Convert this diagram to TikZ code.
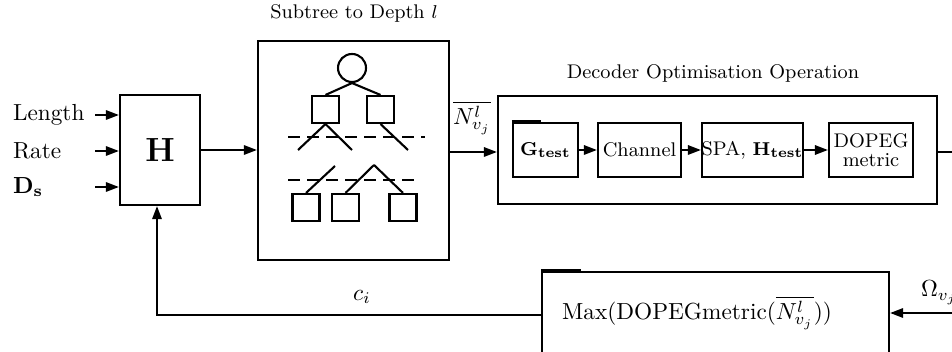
\documentclass[tikz,border=0pt]{standalone}
\usetikzlibrary{arrows.meta,fit}
\begin{document}
\begin{tikzpicture}[x=0.43pt,y=-0.43pt,line width=0.9pt,
  boxed/.style={draw,inner sep=0pt,rectangle},
  sq/.style={draw,rectangle,inner sep=0pt,minimum width=27*0.43pt,minimum height=27*0.43pt},
  arr/.style={-{Triangle[length=5.6pt,width=4pt]}},
  small/.style={font=\fontsize{8.5}{10}\selectfont},
  dashline/.style={dashed,dash pattern=on 5pt off 3.2pt}]
\clip (0,0) rectangle (952,352);
% H block
\node[boxed,fit={(120,95)(200,205)}] (H) {};
\node at (H.center) (Hl) {\Large$\mathbf{H}$};
\node[anchor=west,inner sep=0pt] (len) at (12,115) {Length};
\node[anchor=west,inner sep=0pt] (rate) at (12,151) {Rate};
\node[anchor=west,inner sep=0pt] (ds) at (12,187) {$\mathbf{D_s}$};
\coordinate (i1) at (95,115);
\coordinate (i2) at (95,151);
\coordinate (i3) at (95,187);
\draw[arr] (i1) -- (i1 -| H.west);
\draw[arr] (i2) -- (i2 -| H.west);
\draw[arr] (i3) -- (i3 -| H.west);
% Subtree block
\node[boxed,fit={(258,41)(449,260)}] (sub) {};
\node[small] (subt) at (354,13) {Subtree to Depth $l$};
\node[draw,circle,minimum size=28*0.43pt,inner sep=0pt] (root) at (352,68) {};
\node[sq] (s1) at (325.5,109.5) {};
\node[sq] (s2) at (380.5,109.5) {};
\node[sq] (t1) at (306,207.5) {};
\node[sq] (t2) at (345.5,207.5) {};
\node[sq] (t3) at (403,207.5) {};
\draw (root.south) -- (s1.north);
\draw (root.south) -- (s2.north);
\coordinate (e1) at (298,150);
\coordinate (e2) at (352,150);
\coordinate (e3) at (408,150);
\draw (s1.south) -- (e1);
\draw (s1.south) -- (e2);
\draw (s2.south) -- (e3);
\coordinate (f1) at (335,166);
\coordinate (f2) at (374,165);
\draw (f1) -- (t1.north);
\draw (f2) -- (t2.north);
\draw (f2) -- (t3.north);
\coordinate (d1a) at (288,137);
\coordinate (d1b) at (425,137);
\coordinate (d2a) at (288,180);
\coordinate (d2b) at (418,180);
\draw[dashline] (d1a) -- (d1b);
\draw[dashline] (d2a) -- (d2b);
\draw[arr] (H.east) -- (H.east -| sub.west);
% Decoder block
\node[boxed,fit={(498,96)(937,204)}] (dec) {};
\node[small] (dect) at (713,73) {Decoder Optimisation Operation};
\node[boxed,fit={(513,123)(578,177)}] (g) {};
\node[small] at (g.center) (gl) {$\mathbf{G_{test}}$};
\node[boxed,fit={(598,123)(681,177)}] (ch) {};
\node[small] at (ch.center) (chl) {Channel};
\node[boxed,fit={(702,123)(803,177)}] (spa) {};
\node[small,inner sep=0pt] at (spa.center) (spal) {SPA, $\mathbf{H_{test}}$};
\node[boxed,fit={(829,123)(913,177)}] (dop) {};
\node[small,align=center] at (dop.center) (dopl) {DOPEG\\[-2pt]metric};
\draw[line width=1.8pt] (g.north west) -- ++(29,0);
\draw[arr] (g.east) -- (ch.west);
\draw[arr] (ch.east) -- (spa.west);
\draw[arr] (spa.east) -- (dop.west);
\coordinate (sout) at (449,152);
\draw[arr] (sout) -- (sout -| dec.west);
\node[inner sep=0pt] (nl) at (472,118) {$\overline{N^{l}_{v_j}}$};
\coordinate (dout) at (952,152);
\draw (dec.east |- dout) -- (dout);
% Bottom block
\node[boxed,fit={(542,272)(889,400)}] (bot) {};
\draw[line width=1.8pt] (bot.north west) -- ++(40,0);
\node[inner sep=0pt] (botl) at (697,313) {Max(DOPEGmetric($\overline{N^{l}_{v_j}}$))};
\coordinate (om) at (952,313);
\draw[arr] (om) -- (om -| bot.east);
\node[anchor=west,inner sep=0pt] (oml) at (920,293) {$\Omega_{v_j}$};
\coordinate (c1) at (542,315);
\coordinate (c2) at (157,315);
\draw[arr] (c1) -- (c2) -- (c2 |- H.south);
\node (ci) at (362,297) {$c_i$};
\end{tikzpicture}
\end{document}
